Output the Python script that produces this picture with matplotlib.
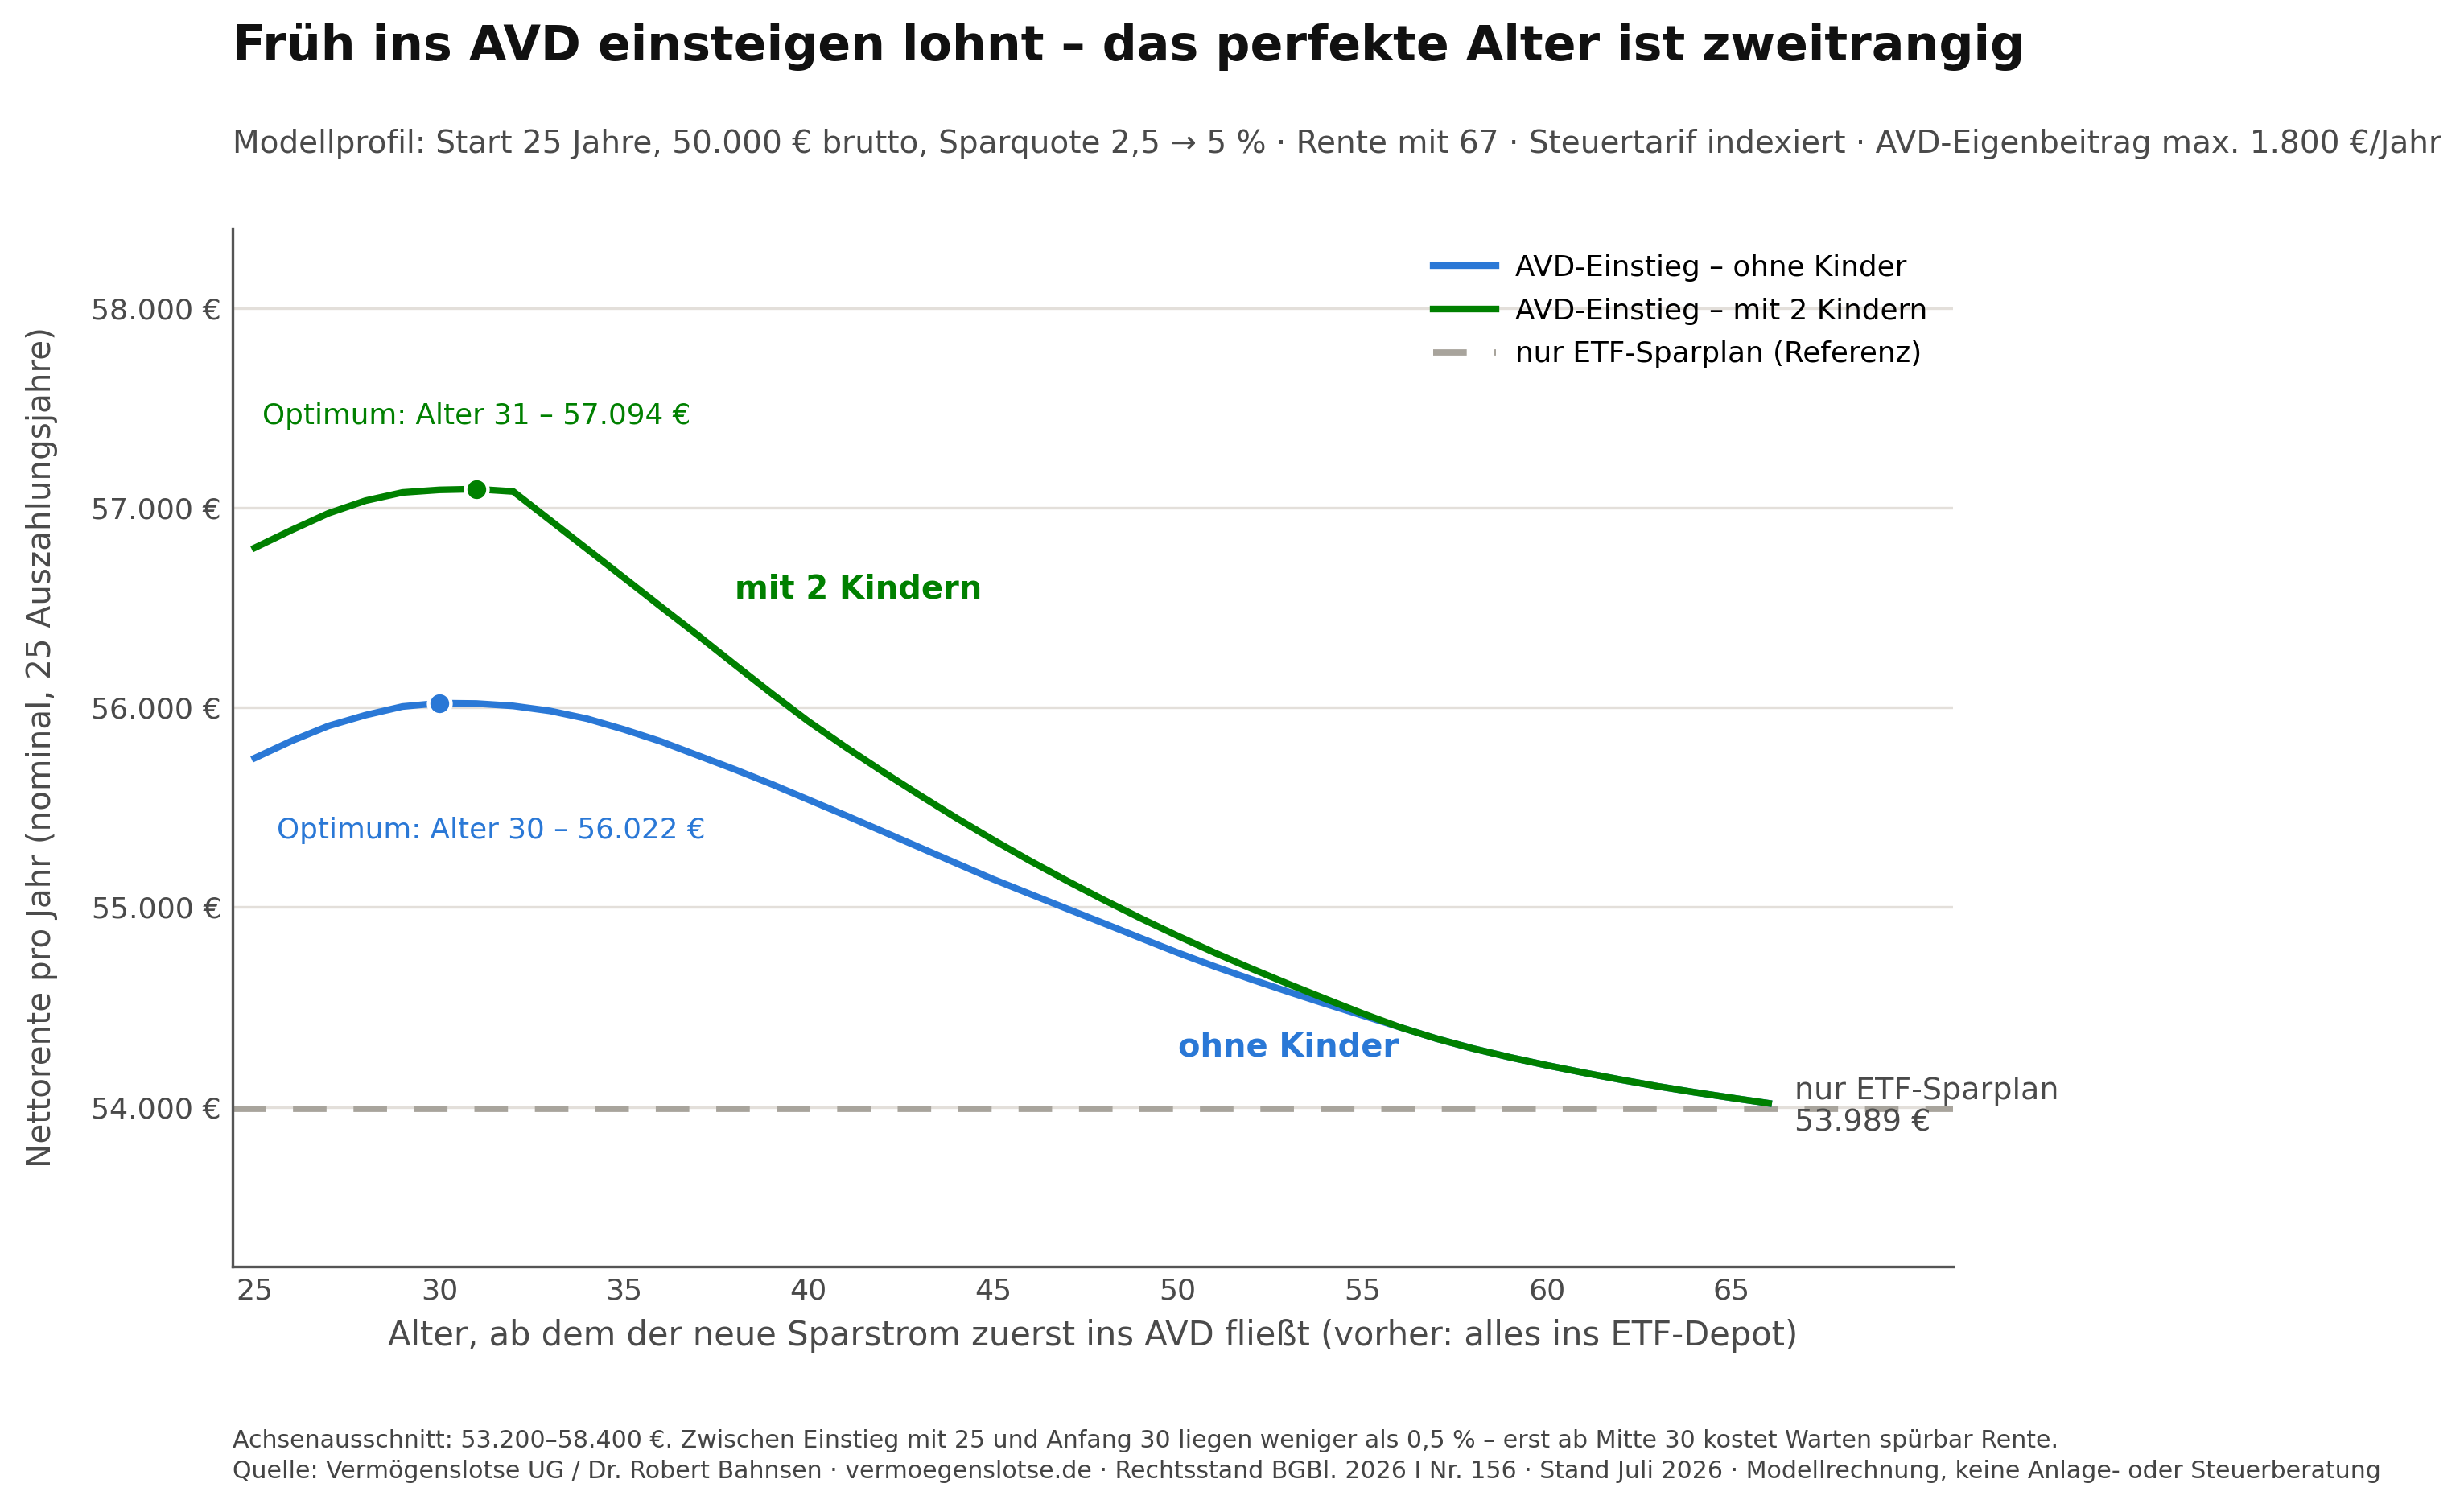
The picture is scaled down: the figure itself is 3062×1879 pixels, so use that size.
import matplotlib
matplotlib.use("Agg")
import matplotlib.pyplot as plt
from matplotlib.ticker import FuncFormatter

# ---- data ----
ages = list(range(25, 67))
ohne_kinder = [55747, 55833, 55908, 55962, 56005, 56022, 56020, 56008, 55983, 55944,
               55890, 55830, 55760, 55690, 55616, 55538, 55460, 55380, 55300, 55220,
               55140, 55066, 54992, 54919, 54845, 54772, 54703, 54638, 54576, 54516,
               54458, 54400, 54342, 54292, 54248, 54208, 54171, 54136, 54103, 54073,
               54045, 54018]
mit_2_kindern = [56800, 56889, 56973, 57036, 57077, 57090, 57094, 57082, 56938, 56794,
                 56650, 56505, 56362, 56215, 56070, 55930, 55802, 55680, 55562, 55447,
                 55337, 55232, 55132, 55036, 54944, 54856, 54772, 54692, 54615, 54541,
                 54468, 54400, 54342, 54292, 54248, 54208, 54171, 54136, 54103, 54073,
                 54045, 54018]
etf_referenz = 53989
opt_ohne = (30, 56022)
opt_mit = (31, 57094)
y_ticks = [54000, 55000, 56000, 57000, 58000]
x_ticks = [25, 30, 35, 40, 45, 50, 55, 60, 65]

BLUE = "#2a78d6"
GREEN = "#008000"
GREY = "#a8a49c"
GRID = "#e3dfda"
TXT = "#4a4a4a"

plt.rcParams["font.family"] = ["DejaVu Sans"]

fig = plt.figure(figsize=(15.31, 9.395), dpi=200)
ax = fig.add_axes([0.0944, 0.1623, 0.6983, 0.6867])

ax.set_xlim(24.4, 71.0)
ax.set_ylim(53200, 58400)
ax.set_yticks(y_ticks)
ax.set_xticks(x_ticks)
ax.yaxis.set_major_formatter(FuncFormatter(lambda v, p: f"{int(v):,} €".replace(",", ".")))
ax.grid(axis="y", color=GRID, linewidth=1.2, zorder=0)
ax.set_axisbelow(True)
for s in ["top", "right"]:
    ax.spines[s].set_visible(False)
for s in ["left", "bottom"]:
    ax.spines[s].set_color("#555555")
    ax.spines[s].set_linewidth(1.2)
ax.tick_params(axis="both", length=0, labelsize=13.1, colors=TXT, pad=5)

ax.axhline(etf_referenz, color=GREY, linewidth=2.8, dashes=(5.36, 4.3), zorder=2,
           label="nur ETF-Sparplan (Referenz)")
ax.plot(ages, ohne_kinder, color=BLUE, linewidth=3.0, zorder=3,
        label="AVD-Einstieg – ohne Kinder")
ax.plot(ages, mit_2_kindern, color=GREEN, linewidth=3.0, zorder=4,
        label="AVD-Einstieg – mit 2 Kindern")
ax.plot([opt_ohne[0]], [opt_ohne[1]], "o", color=BLUE, markersize=10,
        markeredgecolor="white", markeredgewidth=1.6, zorder=5)
ax.plot([opt_mit[0]], [opt_mit[1]], "o", color=GREEN, markersize=10,
        markeredgecolor="white", markeredgewidth=1.6, zorder=5)

handles, labels = ax.get_legend_handles_labels()
order = [1, 2, 0]
ax.legend([handles[i] for i in order], [labels[i] for i in order],
          loc="upper right", frameon=False, fontsize=12.9,
          bbox_to_anchor=(1.0, 1.0), handlelength=2.2, handletextpad=0.65,
          labelspacing=0.55)

ax.text(25.2, 57460, f"Optimum: Alter {opt_mit[0]} – 57.094 €", color=GREEN,
        fontsize=12.9, ha="left", va="center")
ax.text(25.6, 55385, f"Optimum: Alter {opt_ohne[0]} – 56.022 €", color=BLUE,
        fontsize=12.9, ha="left", va="center")
ax.text(38.0, 56590, "mit 2 Kindern", color=GREEN, fontsize=14.4, fontweight="bold",
        ha="left", va="center")
ax.text(50.0, 54297, "ohne Kinder", color=BLUE, fontsize=14.4, fontweight="bold",
        ha="left", va="center")
ax.text(66.7, etf_referenz + 10, "nur ETF-Sparplan\n53.989 €", color=TXT, fontsize=13.7,
        ha="left", va="center", linespacing=1.15, clip_on=False)

ax.set_xlabel("Alter, ab dem der neue Sparstrom zuerst ins AVD fließt (vorher: alles ins ETF-Depot)",
              fontsize=15.0, color=TXT, labelpad=6)
ax.set_ylabel("Nettorente pro Jahr (nominal, 25 Auszahlungsjahre)", fontsize=14.6,
              color=TXT, labelpad=15)

fig.text(0.0944, 0.969, "Früh ins AVD einsteigen lohnt – das perfekte Alter ist zweitrangig",
         fontsize=21.7, fontweight="bold", color="#111111", ha="left", va="center")
fig.text(0.0944, 0.905,
         "Modellprofil: Start 25 Jahre, 50.000 € brutto, Sparquote 2,5 → 5 % · Rente mit 67 · "
         "Steuertarif indexiert · AVD-Eigenbeitrag max. 1.800 €/Jahr",
         fontsize=14.05, color=TXT, ha="left", va="center")
fig.text(0.0944, 0.047,
         "Achsenausschnitt: 53.200–58.400 €. Zwischen Einstieg mit 25 und Anfang 30 liegen weniger "
         "als 0,5 % – erst ab Mitte 30 kostet Warten spürbar Rente.",
         fontsize=10.8, color="#444444", ha="left", va="center")
fig.text(0.0944, 0.027,
         "Quelle: Vermögenslotse UG / Dr. Robert Bahnsen · vermoegenslotse.de · Rechtsstand BGBl. 2026 I "
         "Nr. 156 · Stand Juli 2026 · Modellrechnung, keine Anlage- oder Steuerberatung",
         fontsize=10.8, color="#444444", ha="left", va="center")

fig.savefig("out.png", dpi=200, facecolor="white")
